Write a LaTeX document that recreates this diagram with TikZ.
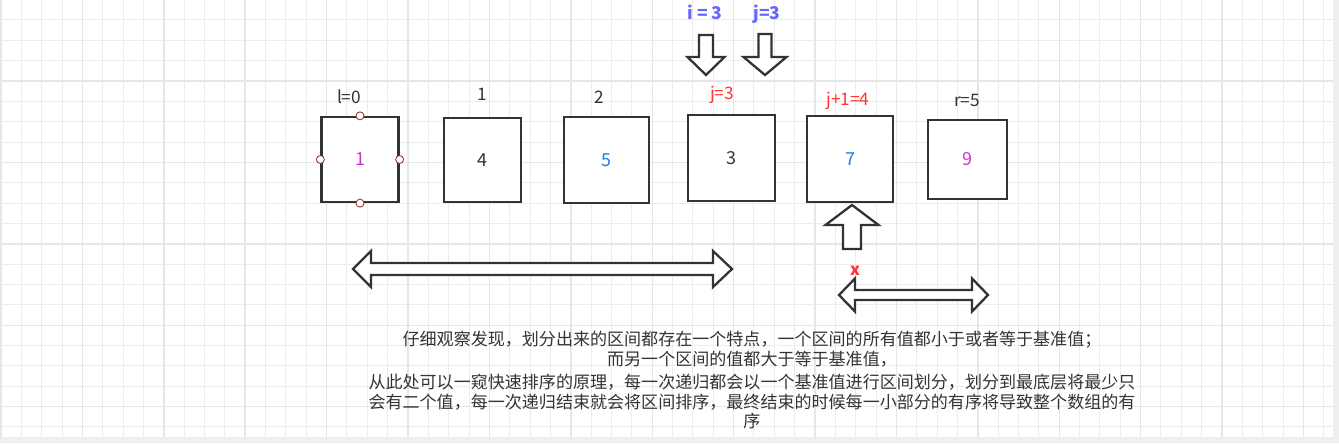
\documentclass[tikz,border=0pt]{standalone}
\usepackage{fontspec}
\setmainfont{Noto Sans CJK SC}
\usetikzlibrary{positioning}
\definecolor{linegray}{HTML}{333333}
\definecolor{labelgray}{HTML}{333333}
\definecolor{gridminor}{HTML}{ECECEC}
\definecolor{gridmajor}{HTML}{E6E6E6}
\definecolor{pagegray}{HTML}{EFEFEF}
\definecolor{handlered}{HTML}{8E3B3B}
\definecolor{numpink}{HTML}{CC33CC}
\definecolor{numblue}{HTML}{1A7FEF}
\definecolor{markred}{HTML}{FF3333}
\definecolor{markblue}{HTML}{6666FF}

\begin{document}
\begin{tikzpicture}[x=0.02cm,y=-0.02cm,
  box/.style={draw=linegray,line width=1.3pt,fill=white,inner sep=0pt,font=\fontsize{10.2}{12}\selectfont},
  idx/.style={anchor=base,font=\fontsize{9.8}{11}\selectfont,text=labelgray},
  handle/.style={circle,draw=handlered,fill=white,line width=0.5pt,inner sep=0pt,minimum size=0.16cm},
  blockarrow/.style={draw=linegray,line width=1.3pt,fill=white,line join=miter}]
\useasboundingbox (0,0) rectangle (1339,443);
\fill[pagegray](0,0) rectangle (1339,443);
\fill[white](0,0) rectangle (1333,437);
% grid
\foreach \k in {0,...,65} \draw[gridminor,line width=0.55pt]({1+20.35*\k},0)--({1+20.35*\k},437);
\foreach \k in {0,...,21} \draw[gridminor,line width=0.55pt](0,{-0.4+20.35*\k})--(1333,{-0.4+20.35*\k});
\foreach \k in {0,...,16} \draw[gridmajor,line width=0.8pt]({1+81.4*\k},0)--({1+81.4*\k},437);
\foreach \k in {0,...,5} \draw[gridmajor,line width=0.8pt](0,{-0.4+81.4*\k})--(1333,{-0.4+81.4*\k});

% boxes
\node[box,minimum width=1.54cm,minimum height=1.70cm,text=numpink](b1) at (360,159.5){1};
\node[box,minimum width=1.54cm,minimum height=1.68cm,text=labelgray](b2) at (482.5,160){4};
\node[box,minimum width=1.70cm,minimum height=1.72cm,text=numblue](b3) at (606.5,160){5};
\node[box,minimum width=1.74cm,minimum height=1.72cm,text=labelgray](b4) at (731.5,158){3};
\node[box,minimum width=1.72cm,minimum height=1.72cm,text=numblue](b5) at (850,159){7};
\node[box,minimum width=1.58cm,minimum height=1.58cm,text=numpink](b6) at (967.5,159.5){9};
\node[handle] at (b1.north){};
\node[handle] at (b1.south){};
\node[handle] at (b1.west){};
\node[handle] at (b1.east){};

% index labels
\node[idx](l0) at (349,103){l=0};
\node[idx](l1) at (482,100){1};
\node[idx](l2) at (599,103){2};
\node[idx,text=markred](l3) at (722,99){j=3};
\node[idx,text=markred](l4) at (848,105){j+1=4};
\node[idx](l5) at (967,106){r=5};
\node[idx,text=markblue,font=\fontsize{10}{11}\selectfont\bfseries](ti) at (705,19){i = 3};
\node[idx,text=markblue,font=\fontsize{10}{11}\selectfont\bfseries](tj) at (767,19){j=3};
\node[idx,text=markred,font=\fontsize{9.4}{10}\selectfont\bfseries](tx) at (855,275){x};

% block arrows
\draw[blockarrow](699,35)--(713,35)--(713,57)--(724.5,57)--(706,75)--(687.5,57)--(699,57)--cycle;
\draw[blockarrow](758.5,34)--(771.5,34)--(771.5,57)--(786.5,57)--(765,75)--(743.5,57)--(758.5,57)--cycle;
\draw[blockarrow](843,249)--(861,249)--(861,225)--(878.5,225)--(852,205)--(825.5,225)--(843,225)--cycle;
\draw[blockarrow](353,269)--(371,251)--(371,263)--(713,263)--(713,251)--(732,269)--(713,287)--(713,275)--(371,275)--(371,287)--cycle;
\draw[blockarrow](839,295)--(855,278.5)--(855,290)--(972,290)--(972,278.5)--(988,295)--(972,311.5)--(972,300)--(855,300)--(855,311.5)--cycle;

% note
\node[anchor=north,align=center,inner sep=0pt,text=labelgray,font=\fontsize{9.7}{11}\selectfont](note) at (752,331){%
仔细观察发现，划分出来的区间都存在一个特点，一个区间的所有值都小于或者等于基准值；\\
而另一个区间的值都大于等于基准值，\\[2.5pt]
从此处可以一窥快速排序的原理，每一次递归都会以一个基准值进行区间划分，划分到最底层将最少只\\
会有二个值，每一次递归结束就会将区间排序，最终结束的时候每一小部分的有序将导致整个数组的有\\
序};
\end{tikzpicture}
\end{document}
